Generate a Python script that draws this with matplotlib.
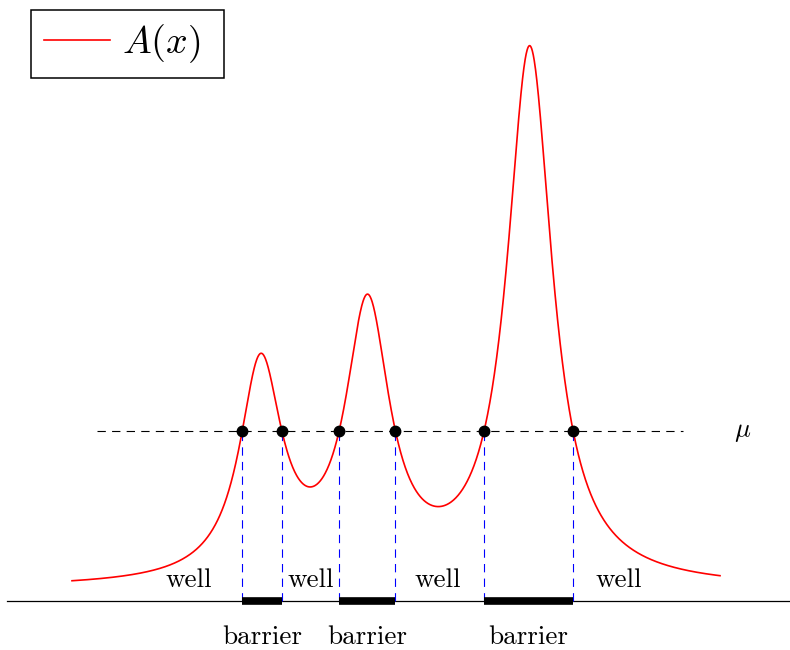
import numpy as np
import matplotlib
matplotlib.use("Agg")
import matplotlib.pyplot as plt

plt.rcParams['mathtext.fontset'] = 'cm'
plt.rcParams['lines.scale_dashes'] = False

# Curve A(x): baseline + three peaks (centres, heights, widths)
baseline_level = 0.1226
peak_centres = [2.912, 4.561, 7.063]
peak_heights = [2.140, 2.681, 5.34]
peak_widths = [0.3965, 0.4142, 0.4227]
mu = 1.70
x_start, x_end = 0.0, 10.0

well_x = [1.806, 3.688, 5.648, 8.441]
well_labels = ["well", "well", "well", "well"]
barrier_label = "barrier"


def A(x):
    out = np.full_like(x, baseline_level, dtype=float)
    for c, h, w in zip(peak_centres, peak_heights, peak_widths):
        out += h / (1 + ((x - c) / w) ** 2)
    return out


xs = np.linspace(x_start, x_end, 2000)
ys = A(xs)

# crossings with mu
d = ys - mu
idx = np.where(np.sign(d[:-1]) != np.sign(d[1:]))[0]
cross = []
for i in idx:
    x0, x1 = xs[i], xs[i + 1]
    cross.append(x0 - d[i] * (x1 - x0) / (d[i + 1] - d[i]))
cross = np.array(cross)

fig = plt.figure(figsize=(7.9, 6.5), dpi=100)
ax = fig.add_axes([0, 0, 1, 1])
ax.set_xlim(-72 / 64.8, (790 - 72) / 64.8)
ax.set_ylim(-0.49, 6.01)
ax.axis('off')

# baseline axis
ax.plot([-1.003, 11.08], [0, 0], color='black', lw=0.9, zorder=2)
# mu line
ax.plot([0.386, 9.43], [mu, mu], color='black', lw=0.8, dashes=(6, 4.5), zorder=2)
ax.text(10.355, mu, r'$\mu$', fontsize=19, ha='center', va='center')

# vertical dashed lines
for xc in cross:
    ax.plot([xc, xc], [0, mu], color='blue', lw=0.8, dashes=(6, 4.5), zorder=2)

# barriers
for a, b in zip(cross[0::2], cross[1::2]):
    ax.plot([a, b], [0, 0], color='black', lw=5.5, solid_capstyle='butt', zorder=3)
    ax.text((a + b) / 2, -0.36, barrier_label, fontsize=19.5, family='cmr10',
            ha='center', va='center')

for wx, wl in zip(well_x, well_labels):
    ax.text(wx, 0.21, wl, fontsize=19.5, family='cmr10', ha='center', va='center')

line, = ax.plot(xs, ys, color='red', lw=1.2, zorder=4, label=r'$A(x)$')
ax.plot(cross, np.full_like(cross, mu), 'o', color='black', ms=7.5, zorder=5)

leg = ax.legend(handles=[line], loc='upper left',
                bbox_to_anchor=(31 / 790, 1 - 77 / 650, 193 / 790, 67 / 650),
                mode='expand', bbox_transform=fig.transFigure, borderaxespad=0,
                fontsize=27.5, fancybox=False, framealpha=1, edgecolor='black',
                handlelength=1.75, handletextpad=0.3, borderpad=0.33)
leg.get_frame().set_linewidth(1.1)

fig.savefig("out.png", dpi=100)
